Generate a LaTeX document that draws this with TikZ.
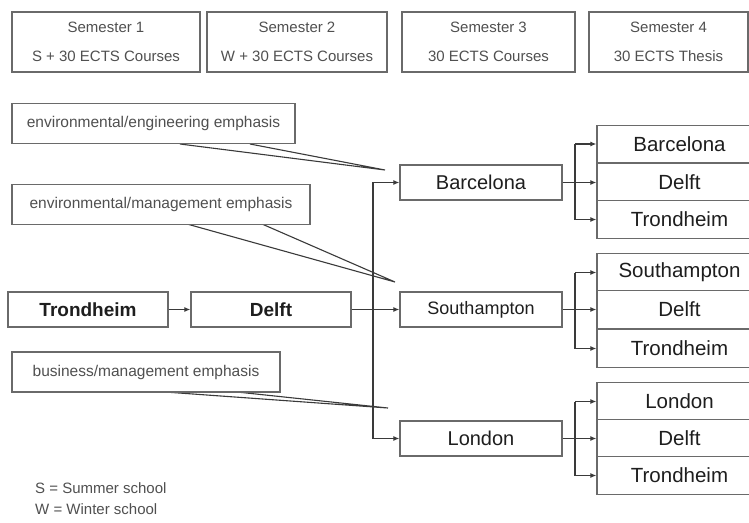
\documentclass[tikz,border=0pt]{standalone}
\usepackage{fontspec}
\setmainfont{Liberation Sans}
\usetikzlibrary{arrows.meta,calc}
\definecolor{bordc}{HTML}{6A6A6A}
\definecolor{linec}{HTML}{3A3A3A}
\definecolor{lighttext}{HTML}{505050}
\definecolor{darktext}{HTML}{1E1E1E}
\begin{document}
\begin{tikzpicture}[x=1pt,y=-1pt,
  box/.style={draw=bordc,line width=1.3pt,inner sep=0pt,fill=white},
  hdr/.style={box,text=lighttext,font=\fontsize{15}{29}\selectfont,align=center,minimum height=60pt},
  callout/.style={box,text=lighttext,font=\fontsize{15.5}{17}\selectfont,minimum height=40pt},
  city/.style={box,text=darktext,font=\fontsize{20.5}{22}\selectfont},
  cell/.style={city,minimum width=165pt,minimum height=37.5pt},
  midbox/.style={box,text=darktext,font=\fontsize{20}{22}\selectfont,minimum width=162pt,minimum height=35pt},
  conn/.style={draw=linec,line width=1.1pt},
  arr/.style={conn,-{Latex[length=6pt,width=5pt]}},
  ptr/.style={draw=linec,line width=1.1pt,line join=miter}
]
\useasboundingbox (0,0) rectangle (749,522);
\clip (0,0) rectangle (749,522);
\fill[white] (0,0) rectangle (749,522);

% headers
\node[hdr,minimum width=188pt] (h1) at (106,42) {Semester 1\\S + 30 ECTS Courses};
\node[hdr,minimum width=180pt] (h2) at (297,42) {Semester 2\\W + 30 ECTS Courses};
\node[hdr,minimum width=173pt] (h3) at (488.5,42) {Semester 3\\30 ECTS Courses};
\node[hdr,minimum width=159pt] (h4) at (668.5,42) {Semester 4\\30 ECTS Thesis};

% callout tips
\coordinate (t1) at (385,170);
\coordinate (t2) at (395,282);
\coordinate (t3) at (388,408);
\draw[ptr] (180,144) -- (t1) -- (250,144);
\draw[ptr] (187,224) -- (t2) -- (262,224);
\draw[ptr] (165,392) -- (t3) -- (237,392);

% callouts
\node[callout,minimum width=283pt] (c1) at (153.5,123.5) {environmental/engineering emphasis};
\node[callout,minimum width=298pt] (c2) at (161,204.5) {environmental/management emphasis};
\node[callout,minimum width=268pt] (c3) at (146,372) {business/management emphasis};

% first year boxes
\node[city,font=\bfseries\fontsize{19}{22}\selectfont,minimum width=160pt,minimum height=35pt] (tro) at (88,309.5) {Trondheim};
\node[city,font=\bfseries\fontsize{19}{22}\selectfont,minimum width=160pt,minimum height=35pt] (del) at (271,309.5) {Delft};

% semester 3
\node[midbox] (bar) at (481,182.5) {Barcelona};
\node[midbox,font=\fontsize{18}{20}\selectfont] (sou) at (481,309.5) {Southampton};
\node[midbox] (lon) at (481,438.5) {London};

% semester 4
\node[cell] (b1) at (679.5,144) {Barcelona};
\node[cell] (b2) at (679.5,182.5) {Delft};
\node[cell] (b3) at (679.5,219.5) {Trondheim};
\node[cell] (s1) at (679.5,272.5) {Southampton};
\node[cell] (s2) at (679.5,309.5) {Delft};
\node[cell] (s3) at (679.5,348.5) {Trondheim};
\node[cell] (l1) at (679.5,401.5) {London};
\node[cell] (l2) at (679.5,438.5) {Delft};
\node[cell] (l3) at (679.5,475.5) {Trondheim};

% connectors
\draw[arr] (tro.east) -- (del.west);
\draw[arr] (del.east) -- (sou.west);
\coordinate (trunk) at (373,309.5);
\draw[arr] (trunk) |- (bar.west);
\draw[arr] (trunk) |- (lon.west);

% branch junctions
\coordinate (jb1) at (575,144);   \coordinate (jb2) at (575,182.5); \coordinate (jb3) at (575,219.5);
\coordinate (js1) at (575,272.5); \coordinate (js2) at (575,309.5); \coordinate (js3) at (575,348.5);
\coordinate (jl1) at (575,401.5); \coordinate (jl2) at (575,438.5); \coordinate (jl3) at (575,475.5);
\draw[conn] (jb1) -- (jb3);
\draw[conn] (js1) -- (js3);
\draw[conn] (jl1) -- (jl3);
\draw[arr] (bar.east) -- (b2.west);
\draw[arr] (sou.east) -- (s2.west);
\draw[arr] (lon.east) -- (l2.west);
\draw[arr] (jb1) -- (b1.west);
\draw[arr] (jb3) -- (b3.west);
\draw[arr] (js1) -- (s1.west);
\draw[arr] (js3) -- (s3.west);
\draw[arr] (jl1) -- (l1.west);
\draw[arr] (jl3) -- (l3.west);

% legend
\node[anchor=west,text=lighttext,font=\fontsize{15}{16}\selectfont,inner sep=0pt] (leg1) at (35,488) {S = Summer school};
\node[anchor=west,text=lighttext,font=\fontsize{15}{16}\selectfont,inner sep=0pt] (leg2) at (35,509) {W = Winter school};
\end{tikzpicture}
\end{document}
